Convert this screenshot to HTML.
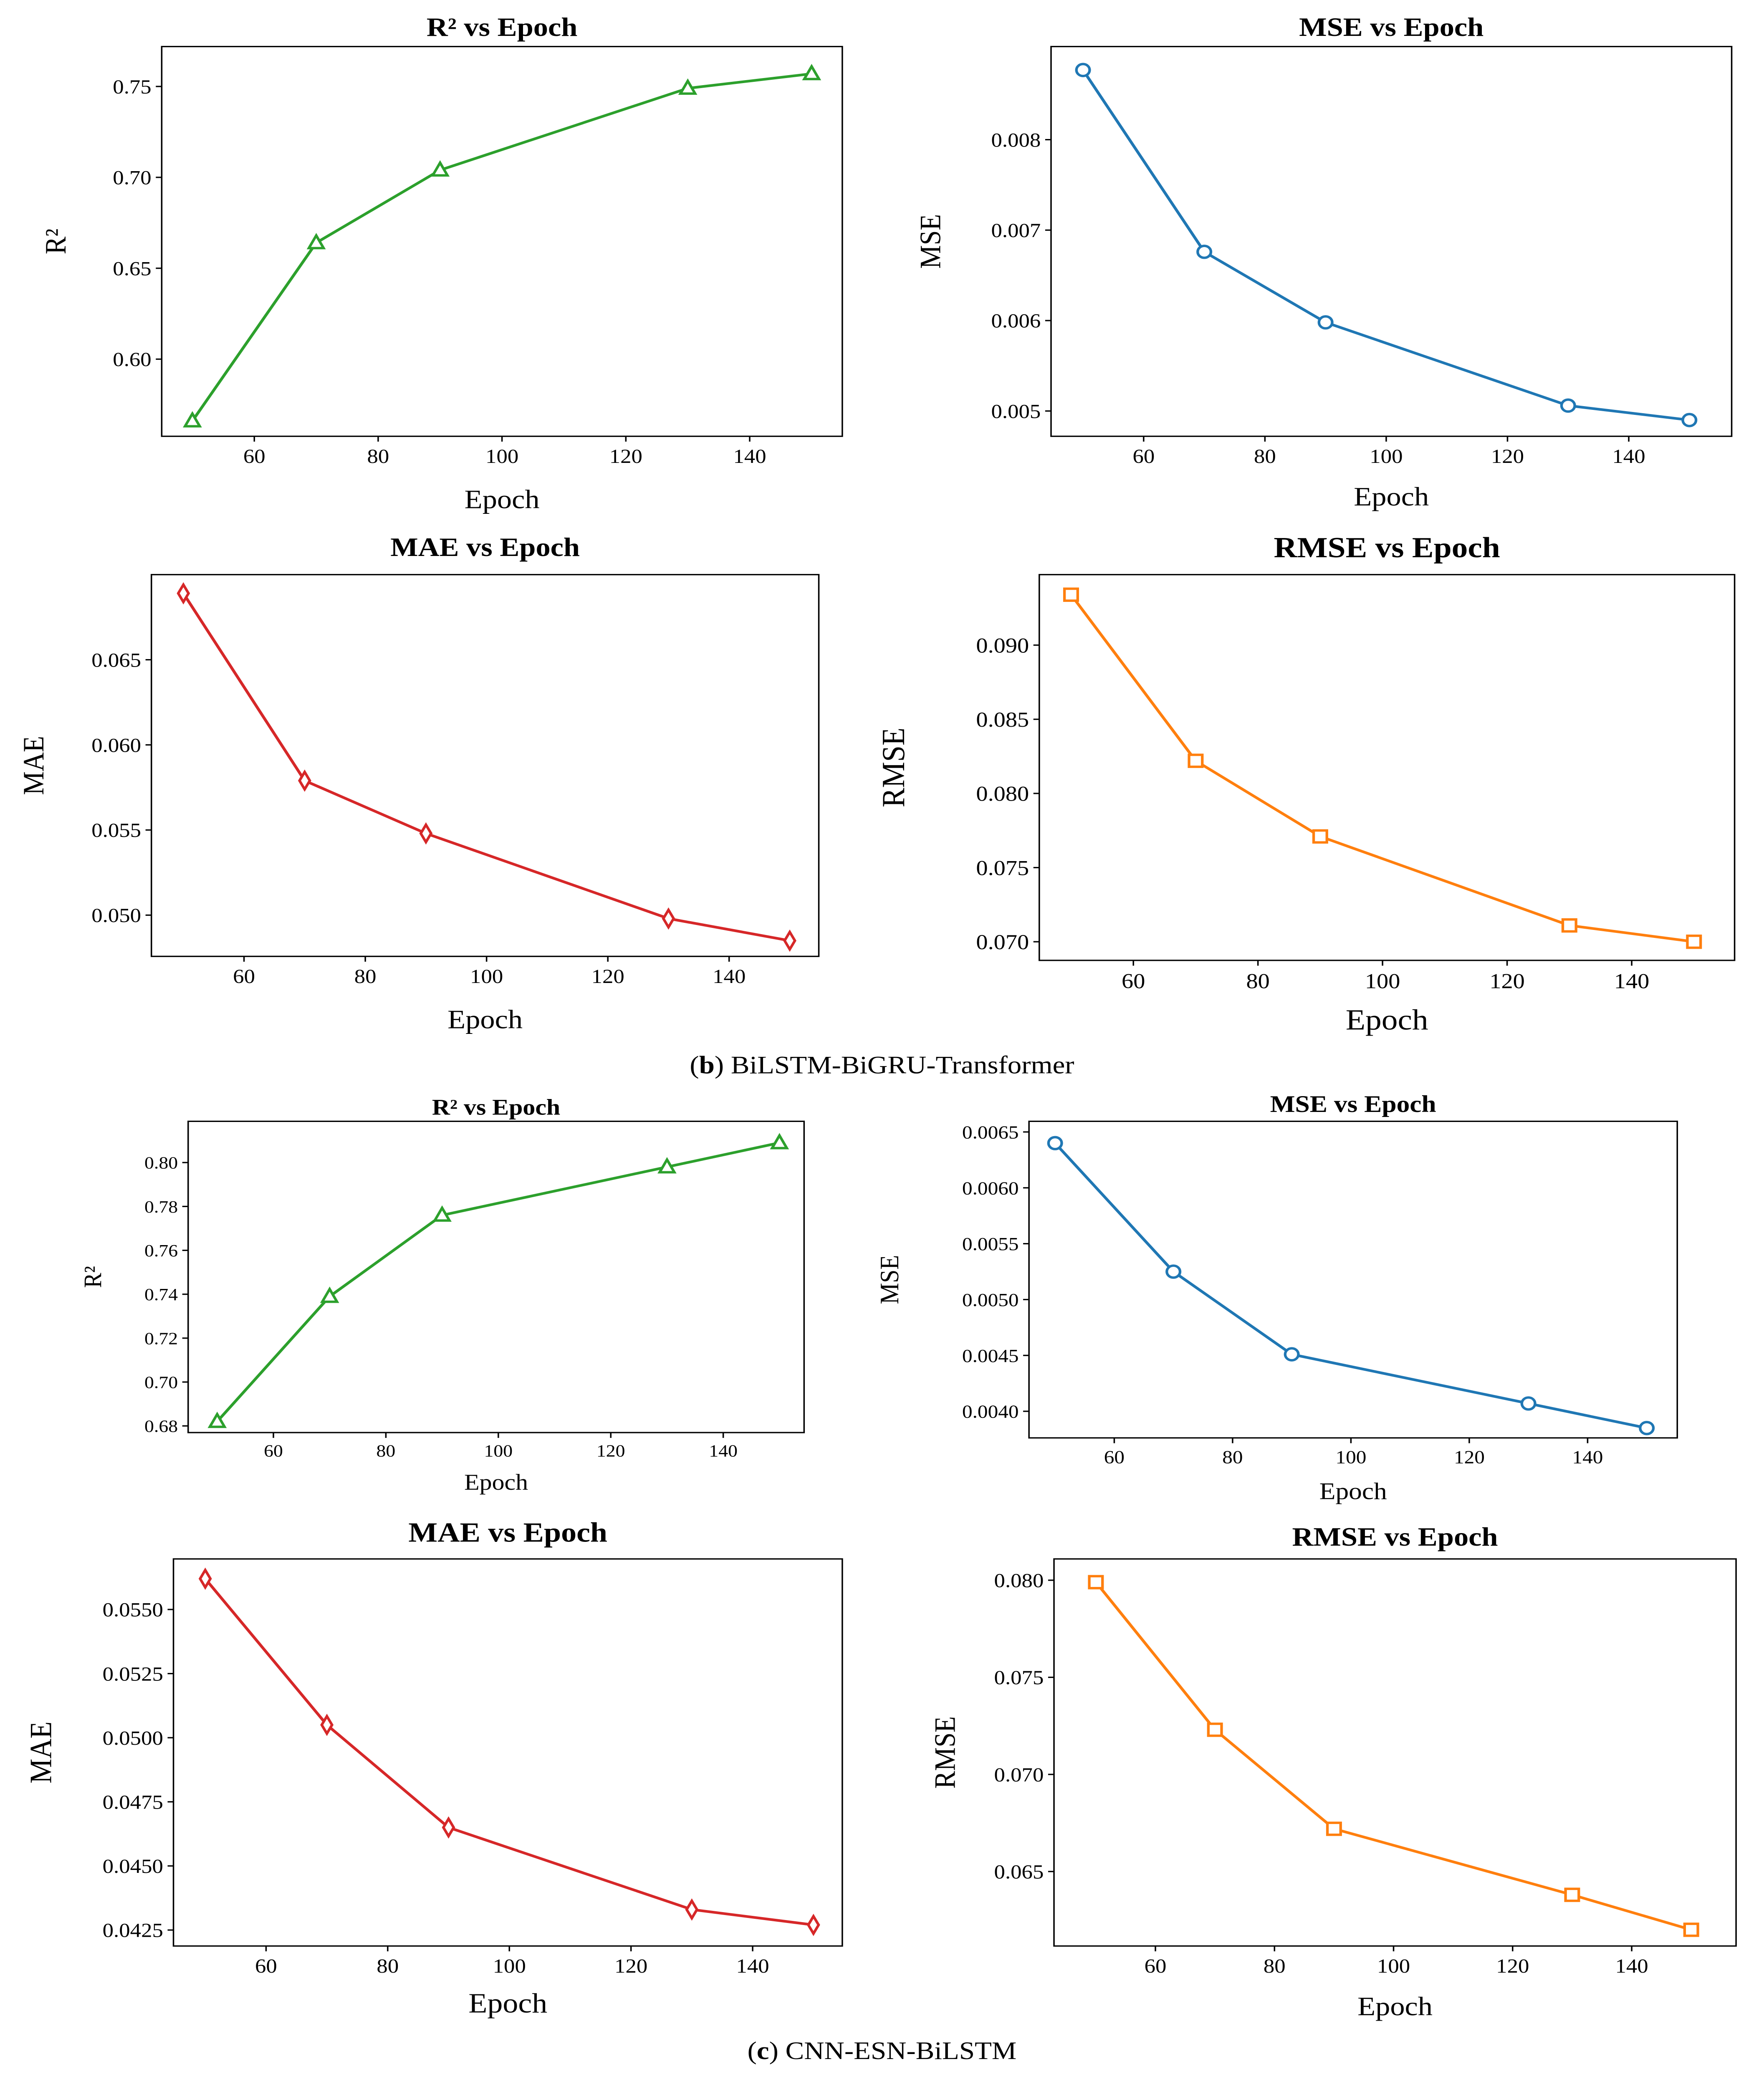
<!DOCTYPE html>
<html><head><meta charset="utf-8">
<style>
html,body{margin:0;padding:0;background:#fff;width:100%;height:100%;overflow:hidden;}
svg{display:block;position:absolute;left:0;top:0;width:100vw;height:100vh;}
text{font-family:"Liberation Serif",serif;fill:#000;}
</style></head>
<body>
<svg id="fig" viewBox="0 0 1200 1569" preserveAspectRatio="none" xmlns="http://www.w3.org/2000/svg"></svg>
<script>
const epochs = [50, 70, 90, 130, 150];
const xTicks = [60, 80, 100, 120, 140];
const r2B = [0.566, 0.664, 0.704, 0.749, 0.757];
const mseB = [0.00877, 0.00676, 0.00598, 0.00506, 0.00490];
const maeB = [0.0689, 0.0579, 0.0548, 0.0498, 0.0485];
const rmseB = [0.0934, 0.0822, 0.0771, 0.0711, 0.0700];
const r2C = [0.682, 0.739, 0.776, 0.798, 0.809];
const mseC = [0.00640, 0.00525, 0.00451, 0.00407, 0.00385];
const maeC = [0.0562, 0.0505, 0.0465, 0.0433, 0.0427];
const rmseC = [0.0799, 0.0723, 0.0672, 0.0638, 0.0620];
const ticksR2B = [0.60, 0.65, 0.70, 0.75];
const ticksMseB = [0.005, 0.006, 0.007, 0.008];
const ticksMaeB = [0.050, 0.055, 0.060, 0.065];
const ticksRmseB = [0.070, 0.075, 0.080, 0.085, 0.090];
const ticksR2C = [0.68, 0.70, 0.72, 0.74, 0.76, 0.78, 0.80];
const ticksMseC = [0.0040, 0.0045, 0.0050, 0.0055, 0.0060, 0.0065];
const ticksMaeC = [0.0425, 0.0450, 0.0475, 0.0500, 0.0525, 0.0550];
const ticksRmseC = [0.065, 0.070, 0.075, 0.080];

const NS = "http://www.w3.org/2000/svg";
const svg = document.getElementById('fig');
function el(tag, attrs, parent) {
  const e = document.createElementNS(NS, tag);
  for (const k in attrs) e.setAttribute(k, attrs[k]);
  (parent || svg).appendChild(e);
  return e;
}

const panels = [
 {name:'r2-b', title:'R² vs Epoch', ylab:'R²', vals:r2B, ticks:ticksR2B, dec:2, color:'#2ca02c', marker:'tri',
  box:[110,35,573,328], xc:[60,173,140,510], yc:[0.75,65,0.60,270], ty:20, xly:375, ylx:40, tfs:20, lfs:20, fs:15},
 {name:'mse-b', title:'MSE vs Epoch', ylab:'MSE', vals:mseB, ticks:ticksMseB, dec:3, color:'#1f77b4', marker:'circ',
  box:[715,35,1178,328], xc:[60,778,140,1108], yc:[0.008,105,0.005,309], ty:20, xly:373, ylx:635, tfs:20, lfs:20, fs:15},
 {name:'mae-b', title:'MAE vs Epoch', ylab:'MAE', vals:maeB, ticks:ticksMaeB, dec:3, color:'#d62728', marker:'dia',
  box:[103,432,557,719], xc:[60,166,140,496], yc:[0.065,496,0.050,688], ty:411, xly:766, ylx:25, tfs:20, lfs:20, fs:15},
 {name:'rmse-b', title:'RMSE vs Epoch', ylab:'RMSE', vals:rmseB, ticks:ticksRmseB, dec:3, color:'#ff7f0e', marker:'sq',
  box:[707,432,1180,722], xc:[60,771,140,1110], yc:[0.090,485,0.070,708], ty:412, xly:767, ylx:610, tfs:22, lfs:22, fs:16},
 {name:'r2-c', title:'R² vs Epoch', ylab:'R²', vals:r2C, ticks:ticksR2C, dec:2, color:'#2ca02c', marker:'tri',
  box:[128,843,547,1077], xc:[60,186,140,492], yc:[0.80,874,0.68,1072], ty:831, xly:1113, ylx:65, tfs:17, lfs:17, fs:13},
 {name:'mse-c', title:'MSE vs Epoch', ylab:'MSE', vals:mseC, ticks:ticksMseC, dec:4, color:'#1f77b4', marker:'circ',
  box:[700,843,1141,1081], xc:[60,758,140,1080], yc:[0.0065,851,0.0040,1061], ty:829, xly:1120, ylx:607, tfs:18, lfs:18, fs:14},
 {name:'mae-c', title:'MAE vs Epoch', ylab:'MAE', vals:maeC, ticks:ticksMaeC, dec:4, color:'#d62728', marker:'dia',
  box:[118,1172,573,1463], xc:[60,181,140,512], yc:[0.0550,1210,0.0425,1451], ty:1152, xly:1506, ylx:30, tfs:21, lfs:21, fs:15},
 {name:'rmse-c', title:'RMSE vs Epoch', ylab:'RMSE', vals:rmseC, ticks:ticksRmseC, dec:3, color:'#ff7f0e', marker:'sq',
  box:[717,1172,1181,1463], xc:[60,786,140,1110], yc:[0.080,1188,0.065,1407], ty:1155, xly:1508, ylx:645, tfs:20, lfs:20, fs:15}
];

panels.forEach(p => {
  const g = el('g', {});
  
  
  const [x0,y0,x1,y1] = p.box;
  const sx = v => p.xc[1] + (v - p.xc[0]) * (p.xc[3]-p.xc[1])/(p.xc[2]-p.xc[0]);
  const sy = v => p.yc[1] + (v - p.yc[0]) * (p.yc[3]-p.yc[1])/(p.yc[2]-p.yc[0]);
  const cx = (x0+x1)/2;
  const t = el('text', {x:cx, y:p.ty+7, 'text-anchor':'middle', 'font-size':p.tfs, 'font-weight':'bold'}, g);
  t.textContent = p.title;
  
  
  const frame = el('rect', {x:x0, y:y0, width:x1-x0, height:y1-y0, fill:'none', stroke:'#000', 'stroke-width':1}, g);
  
  
  xTicks.forEach(v => {
    const x = sx(v);
    el('line', {x1:x, y1:y1, x2:x, y2:y1+4, stroke:'#000'}, g);
    const tt = el('text', {x:x, y:y1+5+p.fs, 'text-anchor':'middle', 'font-size':p.fs}, g);
    tt.textContent = v;
    
    
  });
  p.ticks.forEach(v => {
    const y = sy(v);
    el('line', {x1:x0-4, y1:y, x2:x0, y2:y, stroke:'#000'}, g);
    const tt = el('text', {x:x0-7, y:y+p.fs*0.35, 'text-anchor':'end', 'font-size':p.fs}, g);
    tt.textContent = v.toFixed(p.dec);
    
    
  });
  const xl = el('text', {x:cx, y:p.xly+7, 'text-anchor':'middle', 'font-size':p.lfs}, g);
  xl.textContent = 'Epoch';
  
  
  const ym = (y0+y1)/2;
  const yl = el('text', {x:p.ylx, y:ym, 'text-anchor':'middle', 'font-size':p.lfs, transform:`rotate(-90 ${p.ylx} ${ym})`, 'dominant-baseline':'middle'}, g);
  yl.textContent = p.ylab;
  
  
  const pts = epochs.map((e,i) => [sx(e), sy(p.vals[i])]);
  const line = el('polyline', {points:pts.map(q=>q.join(',')).join(' '), fill:'none', stroke:p.color, 'stroke-width':2}, g);
  
  
  pts.forEach(([x,y]) => {
    let m;
    const st = {fill:'#fff', stroke:p.color, 'stroke-width':1.8};
    if (p.marker==='circ') m = el('circle', Object.assign({cx:x, cy:y, r:4.5}, st), g);
    else if (p.marker==='sq') m = el('rect', Object.assign({x:x-4.5, y:y-4.5, width:9, height:9}, st), g);
    else if (p.marker==='tri') m = el('polygon', Object.assign({points:`${x},${y-5.5} ${x-5},${y+4} ${x+5},${y+4}`}, st), g);
    else m = el('polygon', Object.assign({points:`${x},${y-6.5} ${x+3.5},${y} ${x},${y+6.5} ${x-3.5},${y}`}, st), g);
    
    
  });
});

const c1 = el('text', {x:600, y:807, 'text-anchor':'middle', 'font-size':19});
c1.innerHTML = '(<tspan font-weight="bold">b</tspan>) BiLSTM-BiGRU-Transformer';


const c2 = el('text', {x:600, y:1548, 'text-anchor':'middle', 'font-size':19});
c2.innerHTML = '(<tspan font-weight="bold">c</tspan>) CNN-ESN-BiLSTM';


</script>
</body></html>
